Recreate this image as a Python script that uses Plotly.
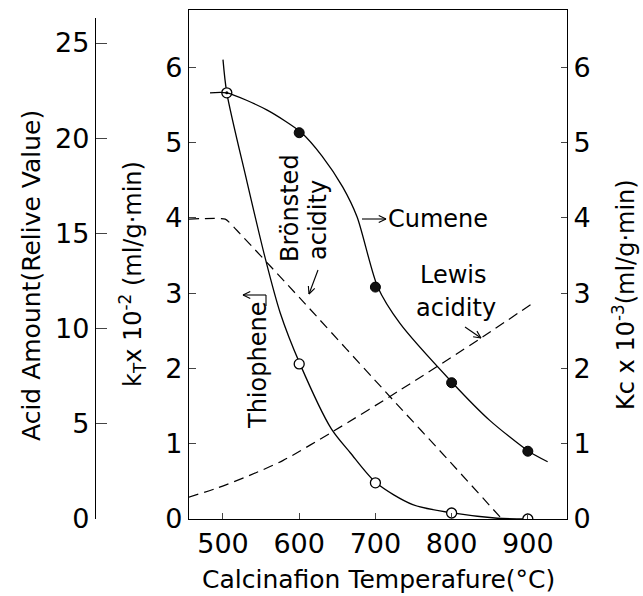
import math
import plotly.graph_objects as go

# ---------------- data ----------------
temps = [600, 700, 800, 900]
thiophene_kT = [2.06, 0.48, 0.08, 0.0]          # open circles, k_T x10^-2
cumene_kc = [5.13, 3.08, 1.81, 0.90]            # filled circles, Kc x10^-3
shared_T = [505]
shared_k = [5.66]                                # dotted open circle at 500 C

thio_curve_x = [500, 505, 531, 555, 575, 601, 642, 667, 701, 749, 801, 860, 900]
thio_curve_y = [6.10, 5.66, 4.50, 3.48, 2.74, 2.06, 1.20, 0.88, 0.48, 0.19, 0.08, 0.01, 0.0]

cum_curve_x = [483, 505, 558, 603, 630, 657, 676, 703, 732, 801, 850, 901, 926]
cum_curve_y = [5.66, 5.66, 5.43, 5.13, 4.82, 4.41, 4.01, 3.08, 2.60, 1.81, 1.31, 0.90, 0.76]

bron_x = [455, 503, 522, 601, 722, 798, 866]
bron_acid = [15.75, 15.75, 15.0, 11.6, 6.3, 3.0, 0.0]

lewis_x = [455, 492, 535, 579, 644, 732, 841, 907]
lewis_acid = [1.15, 1.62, 2.29, 3.08, 4.59, 6.76, 9.57, 11.35]

x_ticks = [500, 600, 700, 800, 900]
k_ticks = [0, 1, 2, 3, 4, 5, 6]
acid_ticks = [0, 5, 10, 15, 20, 25]

FONT = "DejaVu Sans"
W, H = 643, 596
L, R, T, B = 95, 567, 10, 519   # paper area in pixels


def px(xp):
    return (xp - L) / (R - L)


def py(yp):
    return (B - yp) / (B - T)


fig = go.Figure()

fig.add_trace(go.Scatter(x=thio_curve_x, y=thio_curve_y, mode="lines",
                         line=dict(color="black", width=1.3, shape="spline", smoothing=0.8),
                         xaxis="x", yaxis="y", showlegend=False, hoverinfo="skip"))
fig.add_trace(go.Scatter(x=cum_curve_x, y=cum_curve_y, mode="lines",
                         line=dict(color="black", width=1.3, shape="spline", smoothing=0.7),
                         xaxis="x", yaxis="y2", showlegend=False, hoverinfo="skip"))
fig.add_trace(go.Scatter(x=bron_x, y=bron_acid, mode="lines",
                         line=dict(color="black", width=1.2, dash="10px,6px", shape="spline", smoothing=0.4),
                         xaxis="x", yaxis="y3", showlegend=False))
fig.add_trace(go.Scatter(x=lewis_x, y=lewis_acid, mode="lines",
                         line=dict(color="black", width=1.2, dash="10px,6px", shape="spline", smoothing=0.8),
                         xaxis="x", yaxis="y3", showlegend=False))
fig.add_trace(go.Scatter(x=temps, y=thiophene_kT, mode="markers", name="Thiophene",
                         marker=dict(symbol="circle", size=10, color="white",
                                     line=dict(color="black", width=1.3)),
                         xaxis="x", yaxis="y", showlegend=False))
fig.add_trace(go.Scatter(x=temps, y=cumene_kc, mode="markers", name="Cumene",
                         marker=dict(symbol="circle", size=10, color="#111",
                                     line=dict(color="black", width=1)),
                         xaxis="x", yaxis="y2", showlegend=False))
fig.add_trace(go.Scatter(x=shared_T, y=shared_k, mode="markers",
                         marker=dict(symbol="circle", size=10, color="white",
                                     line=dict(color="black", width=1.3)),
                         xaxis="x", yaxis="y", showlegend=False))
fig.add_trace(go.Scatter(x=shared_T, y=shared_k, mode="markers",
                         marker=dict(symbol="circle", size=3, color="black"),
                         xaxis="x", yaxis="y", showlegend=False))

kmax = (B - T) / 75.3
acid_top = 18
acid_scale = 75.3 / 3.955
tickfont = dict(family=FONT, size=27, color="black")

fig.update_layout(
    width=W, height=H,
    margin=dict(l=L, r=W - R, t=T, b=H - B),
    paper_bgcolor="white", plot_bgcolor="rgba(0,0,0,0)",
    font=dict(family=FONT, color="black"),
    showlegend=False,
    xaxis=dict(domain=[px(189), 1], range=[455.4, 951.4], tickvals=x_ticks,
               ticks="inside", ticklen=6, tickwidth=1.2, showline=True, linecolor="black",
               linewidth=1.3, mirror=True, showgrid=False, zeroline=False,
               tickfont=tickfont),
    yaxis=dict(range=[0, kmax], tickvals=k_ticks, ticks="inside", ticklen=7,
               tickwidth=1.2, showline=True, linecolor="black", linewidth=1.3,
               showgrid=False, zeroline=False, tickfont=tickfont, anchor="x"),
    yaxis2=dict(range=[0, kmax], tickvals=k_ticks, ticks="inside", ticklen=6,
                tickwidth=1.2, showline=True, linecolor="black", linewidth=1.3,
                showgrid=False, zeroline=False, tickfont=tickfont, anchor="x",
                overlaying="y", side="right"),
    yaxis3=dict(domain=[0, py(acid_top)], range=[0, (B - acid_top) / acid_scale],
                tickvals=acid_ticks, ticks="inside", ticklen=11, tickwidth=1.2,
                showline=True, linecolor="black", linewidth=1.3, showgrid=False,
                zeroline=False, tickfont=tickfont, anchor="free", position=0, side="left"),
)

ann_font = dict(family=FONT, size=24, color="black")
title_font = dict(family=FONT, size=25, color="black")


def text(x, y, s, angle=0, font=ann_font):
    fig.add_annotation(x=px(x), y=py(y), xref="paper", yref="paper", text=s,
                       showarrow=False, textangle=angle, font=font,
                       xanchor="center", yanchor="middle")


def seg(x0, y0, x1, y1, w=1.1):
    fig.add_shape(type="line", xref="paper", yref="paper", x0=px(x0), y0=py(y0),
                  x1=px(x1), y1=py(y1), line=dict(color="black", width=w))


def arrow(x0, y0, x1, y1, head=8, ang=25):
    seg(x0, y0, x1, y1)
    a = math.atan2(y0 - y1, x0 - x1)
    for s in (-1, 1):
        b = a + s * math.radians(ang)
        seg(x1, y1, x1 + head * math.cos(b), y1 + head * math.sin(b))


# axis titles
text(31, 276, "Acid Amount(Relive Value)", -90, title_font)
text(132, 274, "k<sub>T</sub>x 10<sup>-2</sup> (ml/g·min)", -90, dict(family=FONT, size=24, color="black"))
text(624, 295, "Kc x 10<sup>-3</sup>(ml/g·min)", -90, dict(family=FONT, size=24, color="black"))
text(378, 579, "Calcinafion Temperafure(°C)", 0, title_font)

# curve labels
text(290, 208, "Brönsted", -90)
text(318, 220, "acidity", -90)
arrow(318, 270, 309, 294)
text(258, 366, "Thiophene", -90)
arrow(266, 295, 243, 295)
seg(266, 295, 266, 306)
arrow(362, 219, 386, 219)
text(438, 219, "Cumene")
text(453, 275, "Lewis")
text(456, 308, "acidity")
arrow(465, 327, 481, 338)

fig.write_html("out.html", post_script="document.body.style.margin='0px';",
               config={"displayModeBar": False})
